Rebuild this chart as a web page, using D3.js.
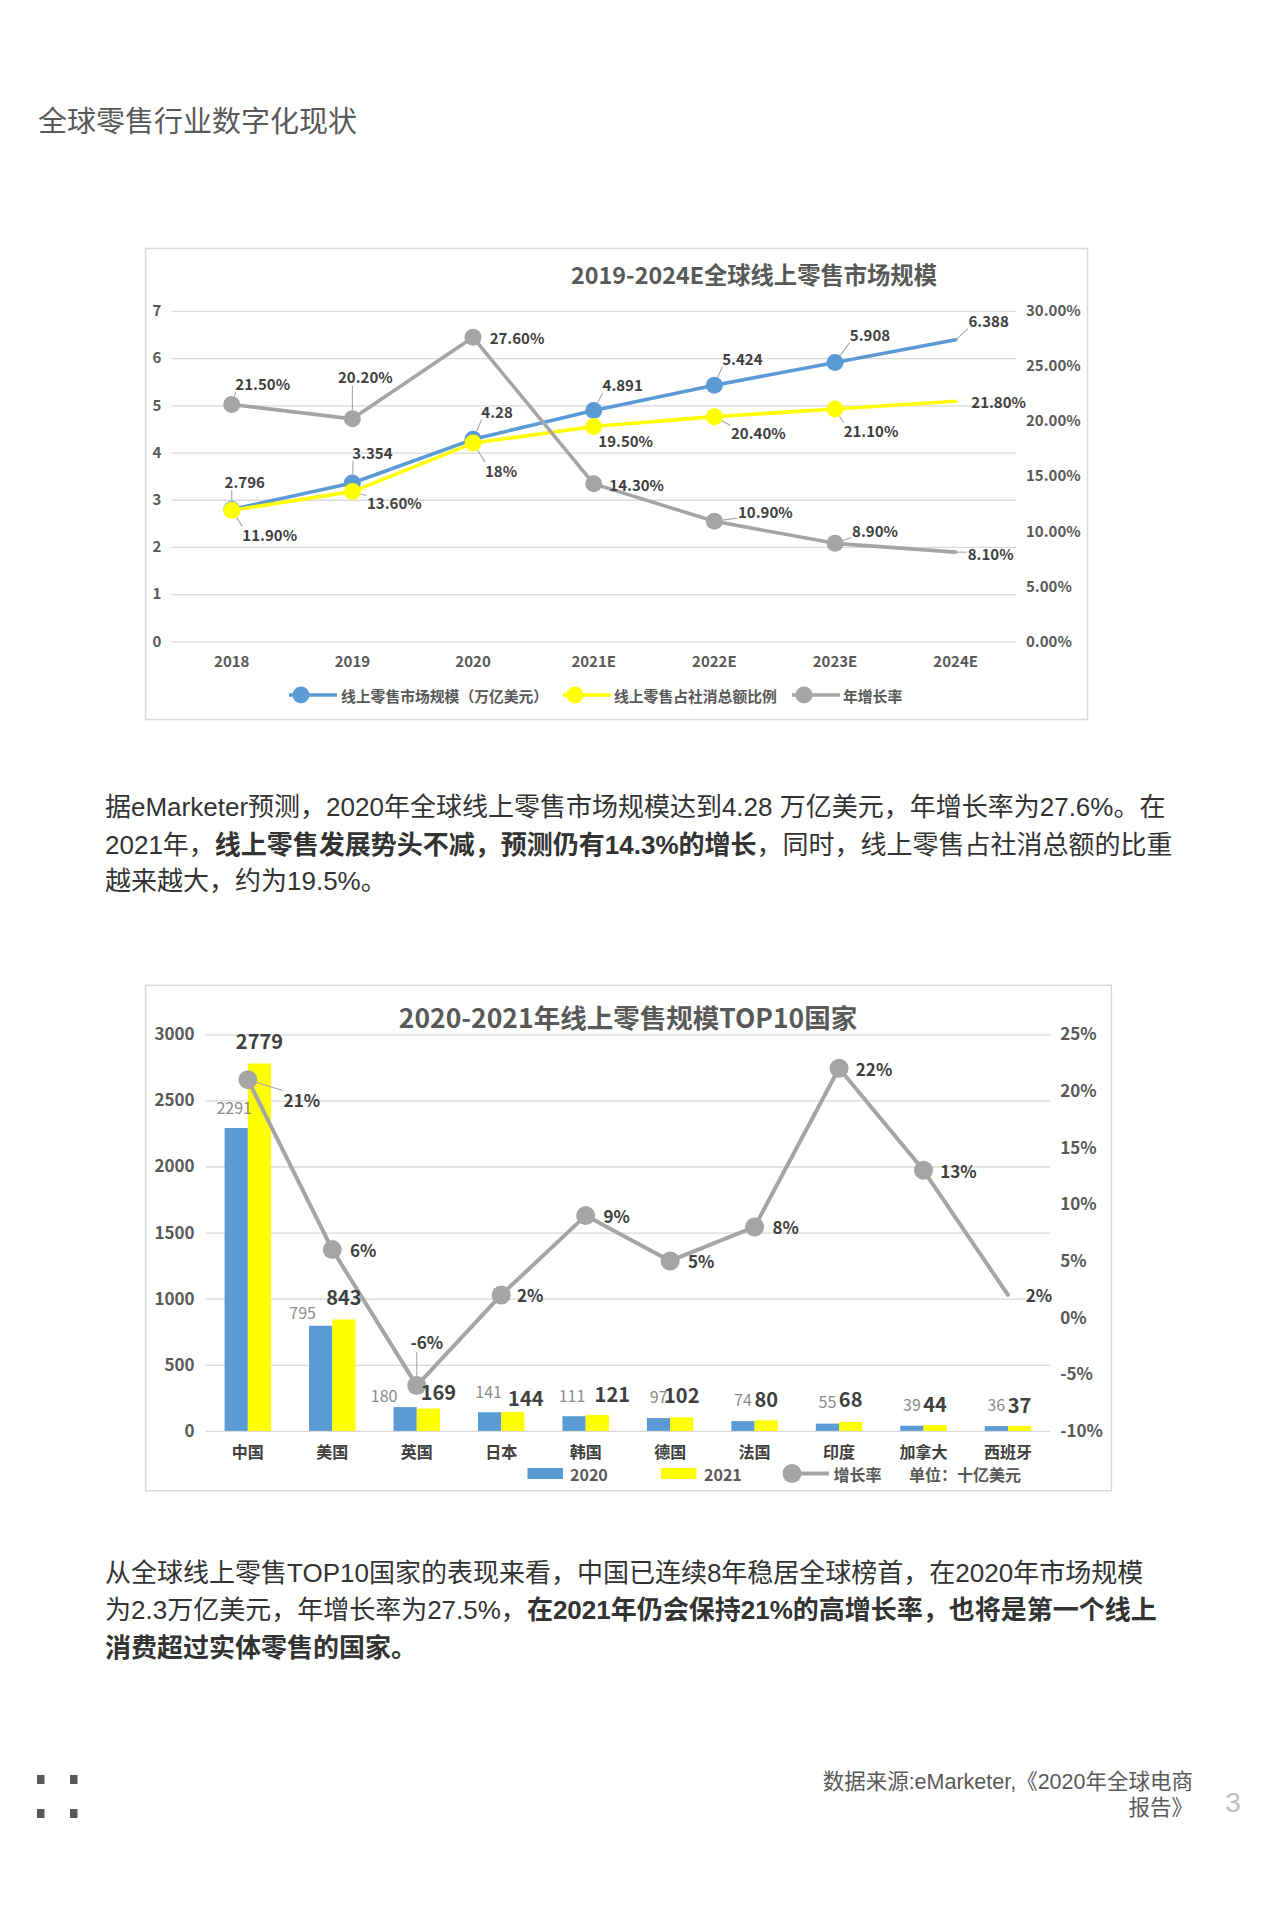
<!DOCTYPE html>
<html lang="zh-CN">
<head>
<meta charset="utf-8">
<title>全球零售行业数字化现状</title>
<script src="https://cdn.jsdelivr.net/npm/d3@7/dist/d3.min.js"></script>
<style>
html,body{margin:0;padding:0;background:#fff;}
svg{display:block;}
</style>
</head>
<body>
<svg id="page" width="1279" height="1919" xmlns="http://www.w3.org/2000/svg"></svg>
<script>
// ---------------- data ----------------
const pageTitle = "全球零售行业数字化现状";

const chart1Title = "2019-2024E全球线上零售市场规模";
const years = ["2018","2019","2020","2021E","2022E","2023E","2024E"];
const marketSize = [2.796,3.354,4.28,4.891,5.424,5.908,6.388];
const marketSizeLabels = ["2.796","3.354","4.28","4.891","5.424","5.908","6.388"];
const onlineShare = [11.9,13.6,18,19.5,20.4,21.1,21.8];
const onlineShareLabels = ["11.90%","13.60%","18%","19.50%","20.40%","21.10%","21.80%"];
const yearGrowth = [21.5,20.2,27.6,14.3,10.9,8.9,8.1];
const yearGrowthLabels = ["21.50%","20.20%","27.60%","14.30%","10.90%","8.90%","8.10%"];
const chart1LeftTicks = [0,1,2,3,4,5,6,7];
const chart1RightTicks = [0,5,10,15,20,25,30];
const chart1Legend = ["线上零售市场规模（万亿美元）","线上零售占社消总额比例","年增长率"];

const chart2Title = "2020-2021年线上零售规模TOP10国家";
const countries = ["中国","美国","英国","日本","韩国","德国","法国","印度","加拿大","西班牙"];
const sales2020 = [2291,795,180,141,111,97,74,55,39,36];
const sales2021 = [2779,843,169,144,121,102,80,68,44,37];
const growth2021 = [21,6,-6,2,9,5,8,22,13,2];
const chart2LeftTicks = [0,500,1000,1500,2000,2500,3000];
const chart2RightTicks = [-10,-5,0,5,10,15,20,25];
const chart2Legend = ["2020","2021","增长率"];
const chart2Unit = "单位：十亿美元";

const para1 = [
  [["据eMarketer预测，2020年全球线上零售市场规模达到4.28 万亿美元，年增长率为27.6%。在",false]],
  [["2021年，",false],["线上零售发展势头不减，预测仍有14.3%的增长",true],["，同时，线上零售占社消总额的比重",false]],
  [["越来越大，约为19.5%。",false]]
];
const para2 = [
  [["从全球线上零售TOP10国家的表现来看，中国已连续8年稳居全球榜首，在2020年市场规模",false]],
  [["为2.3万亿美元，年增长率为27.5%，",false],["在2021年仍会保持21%的高增长率，也将是第一个线上",true]],
  [["消费超过实体零售的国家。",true]]
];
const sourceLines = ["数据来源:eMarketer,《2020年全球电商","报告》"];
const pageNumber = "3";

// ---------------- layout / style ----------------
const CJK = '"Noto Sans CJK SC","Noto Sans",sans-serif';
const BODY = '"Liberation Sans","Noto Sans CJK SC",sans-serif';
const BLUE = "#5b9bd5", YELLOW = "#ffff00", GRAY = "#a5a5a5";
const GRID = "#d9d9d9";

// label offsets (px, label centre relative to data point)
const off1 = {
  size:   [[13,-28],[20,-31],[24,-28],[29,-26],[28,-27],[35,-28],[33,-19]],
  share:  [[38,24],[42,11],[28,27],[32,14],[44,16],[36,22],[43,0]],
  growth: [[31,-21],[13,-42],[44,0],[43,1],[51,-10],[40,-13],[35,1]]
};
const lead1 = {
  size:   [1,1,1,1,1,1,1],
  share:  [1,1,1,0,1,1,0],
  growth: [1,1,0,0,1,1,1]
};
const off2 = {
  s2020: [[-2,-21],[-18,-14],[-21,-12],[-1,-21],[-2,-21],[0,-22],[0,-22],[0,-23],[0,-22],[0,-22]],
  s2021: [[0,-23],[0,-23],[10,-17],[13,-14],[15,-21],[0,-23],[0,-22],[0,-23],[0,-22],[0,-22]],
  g:     [[54,20],[31,0],[10,-44],[29,0],[31,0],[31,0],[31,0],[35,0],[35,0],[31,0]]
};
const lead2 = [1,0,1,0,0,0,0,0,0,0];

const svg = d3.select("#page");
svg.append("rect").attr("width",1279).attr("height",1919).attr("fill","#fff");

function leader(g, px, py, node, r){
  const b = node.getBBox();
  const cx = Math.max(b.x+1, Math.min(px, b.x+b.width-1));
  const cy = Math.max(b.y+4, Math.min(py, b.y+b.height-4));
  const dx = cx-px, dy = cy-py, d = Math.hypot(dx,dy);
  if (d <= r+3) return;
  g.append("line")
    .attr("x1", px+dx/d*r).attr("y1", py+dy/d*r)
    .attr("x2", cx-dx/d*2).attr("y2", cy-dy/d*2)
    .attr("stroke","#a6a6a6").attr("stroke-width",1.1);
}

// ---------------- heading ----------------
svg.append("text").attr("x",38).attr("y",119)
  .attr("dominant-baseline","central")
  .attr("font-family",CJK).attr("font-size",29).attr("fill","#595959")
  .text(pageTitle);

// ---------------- chart 1 ----------------
(function(){
  const box = {x:145.6,y:248.5,w:942,h:471};
  const p = {l:171.4,r:1016,t:310.9,b:641.4};
  svg.append("rect").attr("x",box.x).attr("y",box.y).attr("width",box.w).attr("height",box.h)
    .attr("fill","#fff").attr("stroke",GRID).attr("stroke-width",1.5);
  svg.append("text").attr("x",754).attr("y",274).attr("text-anchor","middle")
    .attr("dominant-baseline","central").attr("font-family",CJK).attr("font-weight","bold")
    .attr("font-size",23.3).attr("fill","#595959").text(chart1Title);

  const x = d3.scaleBand().domain(years).range([p.l,p.r]).padding(0);
  const cx = d => x(d)+x.bandwidth()/2;
  const yL = d3.scaleLinear().domain([0,7]).range([p.b,p.t]);
  const yR = d3.scaleLinear().domain([0,30]).range([p.b,p.t]);

  const gL = svg.append("g").attr("transform",`translate(${p.l},0)`)
    .call(d3.axisLeft(yL).tickValues(chart1LeftTicks).tickSize(-(p.r-p.l)).tickPadding(10).tickFormat(d3.format("d")));
  gL.select(".domain").remove();
  gL.selectAll("line").attr("stroke",GRID).attr("stroke-width",1.3);
  gL.selectAll("text").attr("font-family",CJK).attr("font-size",15).attr("font-weight","bold").attr("fill","#595959");

  const gR = svg.append("g").attr("transform",`translate(${p.r},0)`)
    .call(d3.axisRight(yR).tickValues(chart1RightTicks).tickSize(0).tickPadding(10).tickFormat(v => d3.format(".2f")(v)+"%"));
  gR.select(".domain").remove();
  gR.selectAll("text").attr("font-family",CJK).attr("font-size",15).attr("font-weight","bold").attr("fill","#595959");

  const gX = svg.append("g").attr("transform",`translate(0,${p.b})`)
    .call(d3.axisBottom(x).tickSize(0).tickPadding(0));
  gX.select(".domain").remove();
  gX.selectAll("text").attr("y",19).attr("dy",null).attr("dominant-baseline","central")
    .attr("font-family",CJK).attr("font-size",15).attr("font-weight","bold").attr("fill","#595959");

  const series = [
    {vals:marketSize, y:yL, color:BLUE, labels:marketSizeLabels, off:off1.size, lead:lead1.size},
    {vals:onlineShare, y:yR, color:YELLOW, labels:onlineShareLabels, off:off1.share, lead:lead1.share},
    {vals:yearGrowth, y:yR, color:GRAY, labels:yearGrowthLabels, off:off1.growth, lead:lead1.growth}
  ];
  const R = 8.5;
  series.forEach(s => {
    const pts = years.map((yr,i)=>({yr, v:s.vals[i], i}));
    svg.append("path").datum(pts)
      .attr("d", d3.line().x(d=>cx(d.yr)).y(d=>s.y(d.v)))
      .attr("fill","none").attr("stroke",s.color).attr("stroke-width",3.6)
      .attr("stroke-linejoin","round").attr("stroke-linecap","round");
    svg.append("g").selectAll("circle").data(pts.filter(d=>d.i<years.length-1)).join("circle")
      .attr("cx",d=>cx(d.yr)).attr("cy",d=>s.y(d.v)).attr("r",R).attr("fill",s.color);
  });
  const gLab = svg.append("g");
  series.forEach(s => {
    years.forEach((yr,i)=>{
      const px = cx(yr), py = s.y(s.vals[i]);
      const t = gLab.append("text").attr("x",px+s.off[i][0]).attr("y",py+s.off[i][1])
        .attr("text-anchor","middle").attr("dominant-baseline","central")
        .attr("font-family",CJK).attr("font-size",15).attr("font-weight","bold").attr("fill","#404040")
        .text(s.labels[i]);
      if (s.lead[i]) leader(gLab, px, py, t.node(), i<years.length-1 ? R : 0);
    });
  });

  // legend
  const lg = svg.append("g");
  const items = [
    {c:BLUE, lx:289, mx:301, tx:341},
    {c:YELLOW, lx:563, mx:575, tx:614},
    {c:GRAY, lx:792, mx:804, tx:843}
  ];
  items.forEach((it,i)=>{
    lg.append("line").attr("x1",it.lx).attr("x2",it.lx+48).attr("y1",695).attr("y2",695)
      .attr("stroke",it.c).attr("stroke-width",3.6);
    lg.append("circle").attr("cx",it.mx).attr("cy",695).attr("r",8.5).attr("fill",it.c);
    lg.append("text").attr("x",it.tx).attr("y",695).attr("dominant-baseline","central")
      .attr("font-family",CJK).attr("font-size",14.8).attr("font-weight","bold").attr("fill","#595959")
      .text(chart1Legend[i]);
  });
})();

// ---------------- paragraphs ----------------
function paragraph(lines, x, ys){
  lines.forEach((segs,li)=>{
    const t = svg.append("text").attr("x",x).attr("y",ys[li]).attr("dominant-baseline","central")
      .attr("font-family",BODY).attr("font-size",26).attr("fill","#333333");
    segs.forEach(([s,b])=>{
      t.append("tspan").attr("font-weight",b?"bold":"normal").text(s);
    });
  });
}
paragraph(para1, 105, [806.6,844.6,881]);
paragraph(para2, 105, [1573,1610,1647.5]);

// ---------------- chart 2 ----------------
(function(){
  const box = {x:145.6,y:985.3,w:965.8,h:505.5};
  const p = {l:205.6,r:1050.2,t:1034.3,b:1430.9};
  svg.append("rect").attr("x",box.x).attr("y",box.y).attr("width",box.w).attr("height",box.h)
    .attr("fill","#fff").attr("stroke",GRID).attr("stroke-width",1.5);
  svg.append("text").attr("x",628).attr("y",1016).attr("text-anchor","middle")
    .attr("dominant-baseline","central").attr("font-family",CJK).attr("font-weight","bold")
    .attr("font-size",26.5).attr("fill","#595959").text(chart2Title);

  const x0 = d3.scaleBand().domain(countries).range([p.l,p.r]).padding(0);
  const cx = d => x0(d)+x0.bandwidth()/2;
  const gw = x0.bandwidth()*0.55;
  const x1 = d3.scaleBand().domain(["2020","2021"]).range([-gw/2, gw/2]).padding(0);
  const yL = d3.scaleLinear().domain([0,3000]).range([p.b,p.t]);
  const yR = d3.scaleLinear().domain([-10,25]).range([p.b,p.t]);

  const gL = svg.append("g").attr("transform",`translate(${p.l},0)`)
    .call(d3.axisLeft(yL).tickValues(chart2LeftTicks).tickSize(-(p.r-p.l)).tickPadding(11).tickFormat(d3.format("d")));
  gL.select(".domain").remove();
  gL.selectAll("line").attr("stroke",GRID).attr("stroke-width",1.3);
  gL.selectAll("text").attr("font-family",CJK).attr("font-size",17).attr("font-weight","bold").attr("fill","#595959");

  const gR = svg.append("g").attr("transform",`translate(${p.r},0)`)
    .call(d3.axisRight(yR).tickValues(chart2RightTicks).tickSize(0).tickPadding(10).tickFormat(v => v+"%"));
  gR.select(".domain").remove();
  gR.selectAll("text").attr("font-family",CJK).attr("font-size",17).attr("font-weight","bold").attr("fill","#595959");

  const gX = svg.append("g").attr("transform",`translate(0,${p.b})`)
    .call(d3.axisBottom(x0).tickSize(0).tickPadding(0));
  gX.select(".domain").remove();
  gX.selectAll("text").attr("y",20.5).attr("dy",null).attr("dominant-baseline","central")
    .attr("font-family",CJK).attr("font-size",16).attr("font-weight","bold").attr("fill","#404040");

  const rows = countries.map((c,i)=>({c,i,a:sales2020[i],b:sales2021[i],g:growth2021[i]}));
  svg.append("g").selectAll("rect").data(rows).join("rect")
    .attr("x",d=>cx(d.c)+x1("2020")).attr("width",x1.bandwidth())
    .attr("y",d=>yL(d.a)).attr("height",d=>yL(0)-yL(d.a)).attr("fill",BLUE);
  svg.append("g").selectAll("rect").data(rows).join("rect")
    .attr("x",d=>cx(d.c)+x1("2021")).attr("width",x1.bandwidth())
    .attr("y",d=>yL(d.b)).attr("height",d=>yL(0)-yL(d.b)).attr("fill",YELLOW);

  svg.append("path").datum(rows)
    .attr("d", d3.line().x(d=>cx(d.c)).y(d=>yR(d.g)))
    .attr("fill","none").attr("stroke",GRAY).attr("stroke-width",4)
    .attr("stroke-linejoin","round").attr("stroke-linecap","round");
  const R = 9.5;
  svg.append("g").selectAll("circle").data(rows.filter(d=>d.i<countries.length-1)).join("circle")
    .attr("cx",d=>cx(d.c)).attr("cy",d=>yR(d.g)).attr("r",R).attr("fill",GRAY);

  const gLab = svg.append("g");
  rows.forEach(d=>{
    const bx = cx(d.c)+x1("2020")+x1.bandwidth()/2;
    gLab.append("text").attr("x",bx+off2.s2020[d.i][0]).attr("y",yL(d.a)+off2.s2020[d.i][1])
      .attr("text-anchor","middle").attr("dominant-baseline","central")
      .attr("font-family",CJK).attr("font-size",16).attr("fill","#8c8c8c").text(d.a);
    const yx = cx(d.c)+x1("2021")+x1.bandwidth()/2;
    gLab.append("text").attr("x",yx+off2.s2021[d.i][0]).attr("y",yL(d.b)+off2.s2021[d.i][1])
      .attr("text-anchor","middle").attr("dominant-baseline","central")
      .attr("font-family",CJK).attr("font-size",20).attr("font-weight","bold").attr("fill","#404040").text(d.b);
    const px = cx(d.c), py = yR(d.g);
    const t = gLab.append("text").attr("x",px+off2.g[d.i][0]).attr("y",py+off2.g[d.i][1])
      .attr("text-anchor","middle").attr("dominant-baseline","central")
      .attr("font-family",CJK).attr("font-size",17).attr("font-weight","bold").attr("fill","#404040")
      .text(d.g+"%");
    if (lead2[d.i]) leader(gLab, px, py, t.node(), R);
  });

  // legend
  const ly = 1473.5;
  const lg = svg.append("g").attr("font-family",CJK).attr("font-weight","bold").attr("font-size",16).attr("fill","#595959");
  lg.append("rect").attr("x",527.5).attr("y",ly-5.5).attr("width",35.5).attr("height",11).attr("fill",BLUE);
  lg.append("text").attr("x",570).attr("y",ly).attr("dominant-baseline","central").text(chart2Legend[0]);
  lg.append("rect").attr("x",661).attr("y",ly-5.5).attr("width",35.5).attr("height",11).attr("fill",YELLOW);
  lg.append("text").attr("x",704).attr("y",ly).attr("dominant-baseline","central").text(chart2Legend[1]);
  lg.append("line").attr("x1",790).attr("x2",829).attr("y1",ly).attr("y2",ly).attr("stroke",GRAY).attr("stroke-width",4);
  lg.append("circle").attr("cx",792).attr("cy",ly).attr("r",9.5).attr("fill",GRAY);
  lg.append("text").attr("x",833.5).attr("y",ly).attr("dominant-baseline","central").text(chart2Legend[2]);
  lg.append("text").attr("x",909).attr("y",ly).attr("dominant-baseline","central").text(chart2Unit);
})();

// ---------------- footer ----------------
[[37,1775],[70,1775],[37,1809],[70,1809]].forEach(([dx,dy])=>{
  svg.append("rect").attr("x",dx).attr("y",dy).attr("width",7.5).attr("height",9).attr("fill","#595959");
});
sourceLines.forEach((s,i)=>{
  svg.append("text").attr("x",1193).attr("y",[1782,1808][i]).attr("text-anchor","end")
    .attr("dominant-baseline","central").attr("font-family",BODY).attr("font-size",21.5)
    .attr("fill","#595959").text(s);
});
svg.append("text").attr("x",1233).attr("y",1802).attr("text-anchor","middle")
  .attr("dominant-baseline","central").attr("font-family",BODY).attr("font-size",28)
  .attr("fill","#bfbfbf").text(pageNumber);
</script>
</body>
</html>
